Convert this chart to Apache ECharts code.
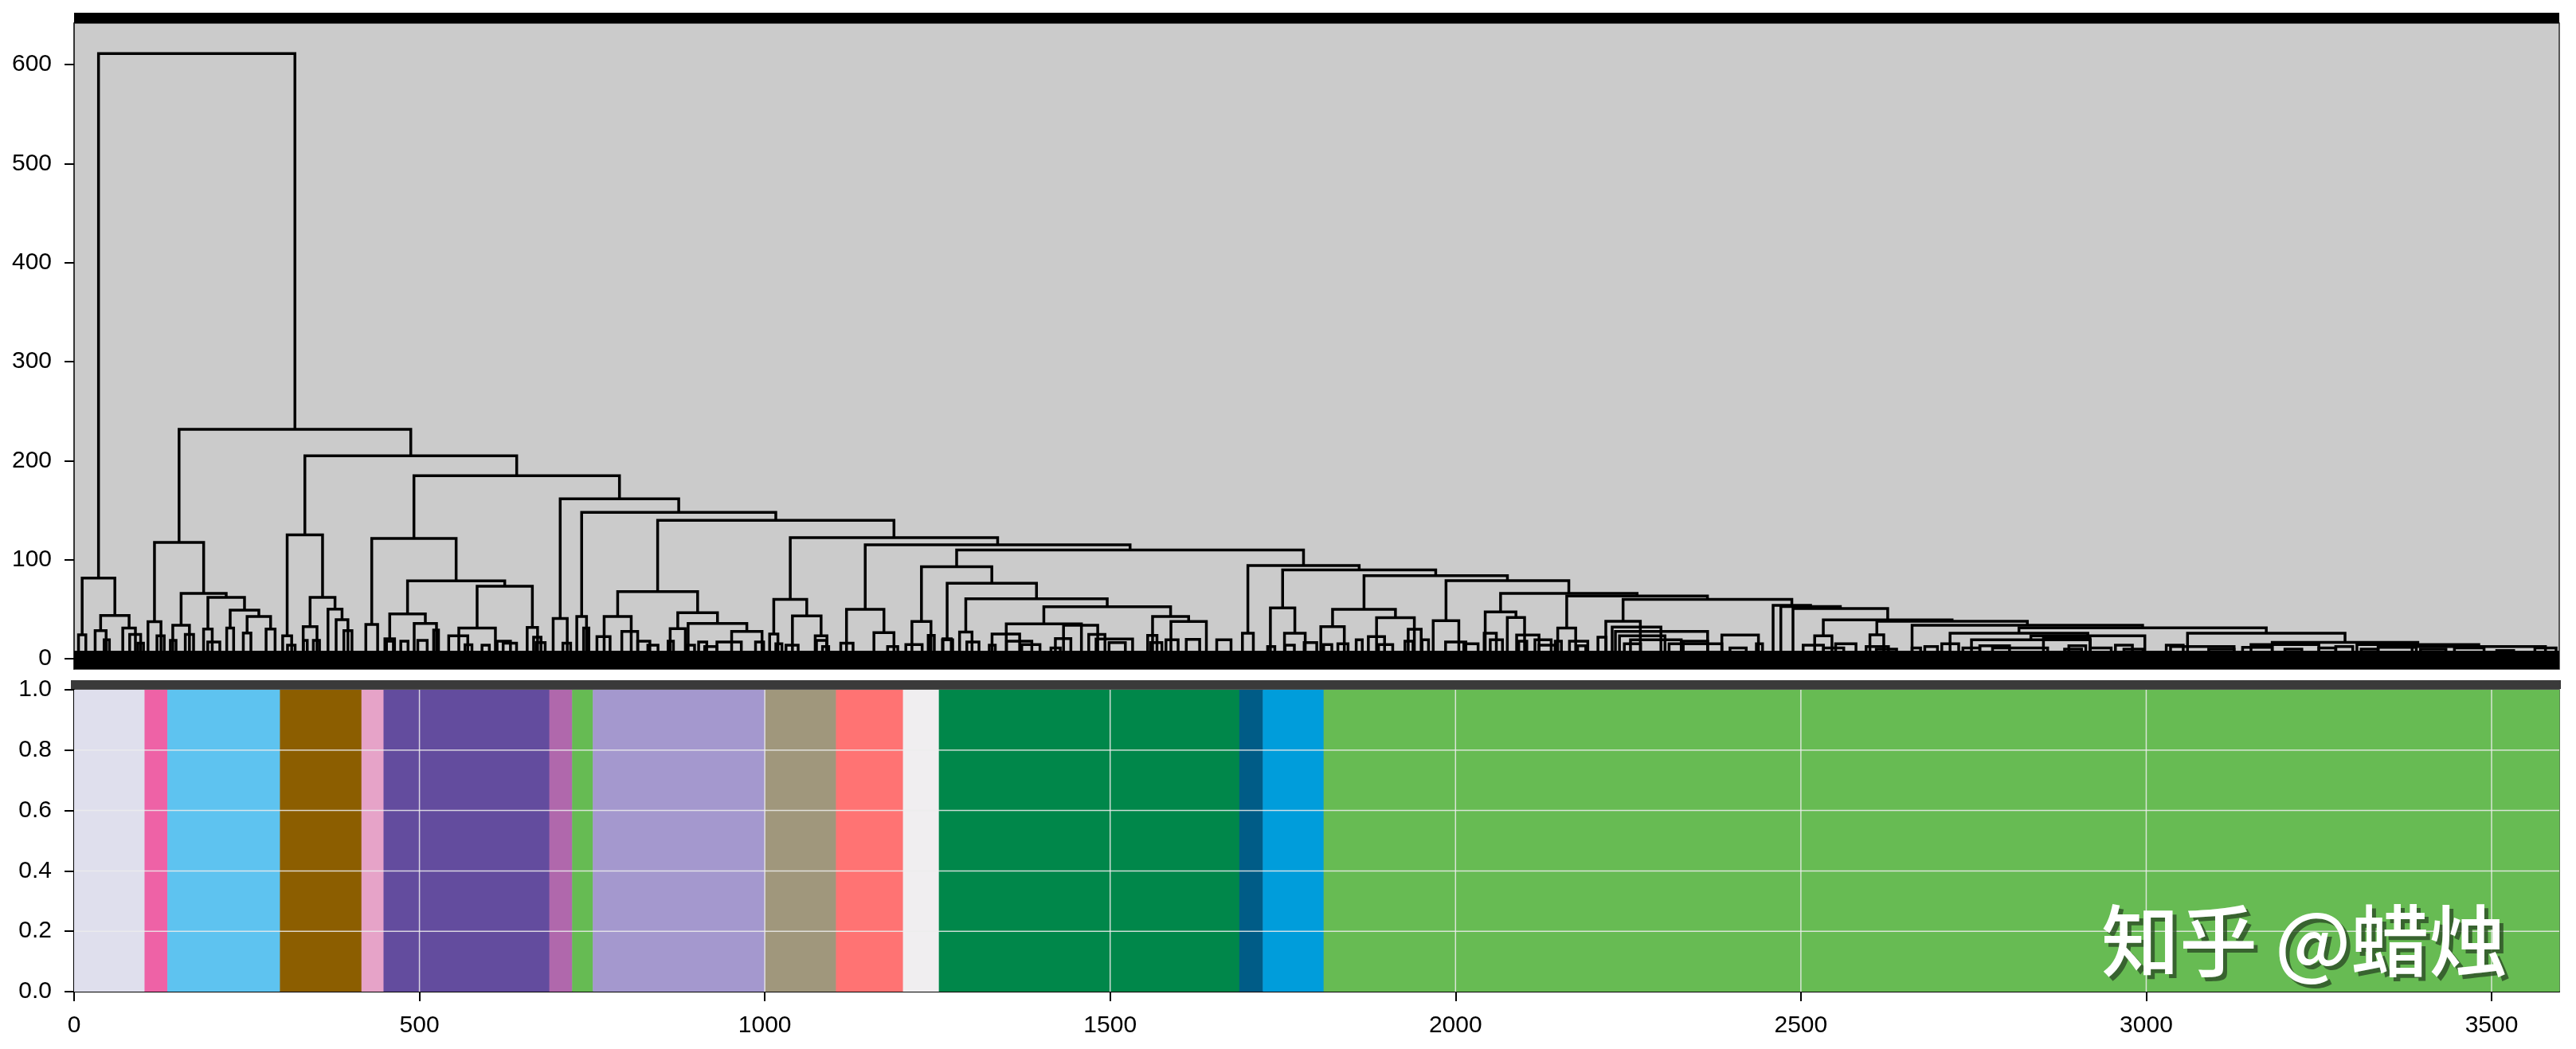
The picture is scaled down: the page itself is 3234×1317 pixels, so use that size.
<!DOCTYPE html>
<html><head><meta charset="utf-8">
<script src="https://cdn.jsdelivr.net/npm/echarts@6/dist/echarts.min.js"></script>
<style>html,body{margin:0;padding:0;background:#fff}#c{width:3234px;height:1317px}</style>
</head><body><div id="c"></div>
<script>
// ---------- data ----------
const leafCount = 3598;
const heightTicks = [0, 100, 200, 300, 400, 500, 600];
const indexTicks = [0, 500, 1000, 1500, 2000, 2500, 3000, 3500];
const fractionTicks = [0, 0.2, 0.4, 0.6, 0.8, 1.0];

// cluster colour bands (leaf index boundaries) of the lower panel
const bandEdges = [0, 102, 135, 298, 416, 448, 688, 721, 751, 1000, 1103, 1200, 1252, 1687, 1721, 1809, 3598];
const bandColors = ['#DFDFED', '#EE62A6', '#5EC3F0', '#8C5E00', '#E6A3C8', '#634C9E', '#B068AC', '#66BB53',
  '#A498CE', '#A0977C', '#FF7373', '#F0EEF0', '#00874A', '#005C87', '#009DDB', '#67BB53'];

// dendrogram merges: [height, left, right]; a bare number is a leaf group position
const clusterA = [81.5, [24, 6.4, 17], [43.7, [28.4, 30.5, 46.4], [31, 70.5, 88.8]]];
const clusterBL = [117.5, [37.3, 107, 125.8], [66, [33.8, 142.9, 167], [62, [30, 187.5, 200], [49, [31, 221, 231], [42.6, [26, 245, 256], [30, 278, 291]]]]]];
const clusterBRL = [125, [23, 302, 315], [62, [32.4, 331.7, 351.7], [50, 367.6, [39.4, 379.4, 396.5]]]];
const clusterBRRL = [121.5, [34.6, 422.4, 439.5], [78.6, [45.3, [20, 450, 464], [35.6, 492.4, 524.7]], [73.2, [31, 557, 610], [31.6, 656, 671]]]];
const clusterN67 = [67.8, [42.6, 767.4, 806.6], [46.4, [30.3, 863, 885], [35.6, 889, [27.6, 952, 996]]]];
const clusterN59 = [59.8, [25, 1007, 1019], [43.2, 1040, [23, 1073, 1090]]];
const clusterN49 = [49.9, 1118.3, [26.3, 1158, 1187]];
const clusterN92 = [92.8, [37.5, 1213, 1240.6], [76.2, [20, 1258, 1270], [60.6, [27, 1282, 1300], [52.5, [35.1, 1349.6, 1458.4], [42.6, 1561.4, [37.5, 1588, 1639.3]]]]]];
const stairTail = [25.7, 3059.8, [16.4, 3182.4, [14.2, 3305, [12.3, 3385, 3578]]]];
const stairMid = [31.1, [25.7, 2716, [23, [19, 2747, 2919], 2998]], stairTail];
const stairTop = [37.8, [24, 2600, 2620], [33.8, 2661, stairMid]];
const clusterStair = [53.9, 2459.8, [52.6, 2471, [50.7, 2488.6, [39.2, [23, 2520, 2545], stairTop]]]];
const clusterN84 = [83.9, [49.9, [32.4, 1805, 1839], [41.3, 1885.7, 1940.4]], [78.8, [38.3, 1967.7, 2004.8], [66, [47.2, 2043, [41.6, 2075, 2100]], [63.3, [31, 2148, 2174], [59.8, [37.8, 2217.6, 2267.6], clusterStair]]]]];
const clusterN94 = [94.1, [25.7, 1691.5, 1707.3], [89.6, [51.2, 1732, [25.7, 1752.4, 1782.4]], clusterN84]];
const chainC = [109.7, clusterN92, clusterN94];
const chainB = [139.7, clusterN67, [122.3, clusterN59, [115, clusterN49, chainC]]];
const clusterBRRR = [161.5, [40.5, 693.6, 714], [147.8, [42.6, 727.8, 741.9], chainB]];
const rootTree = [611.3, clusterA, [231.7, clusterBL, [204.9, clusterBRL, [184.8, clusterBRRL, clusterBRRR]]]];

// low-level merges near the leaves: [leftIndex, rightIndex, height]
const forestWest = [[43.5, 51.1, 19], [80.5, 96.4, 24.4], [92.3, 100.5, 15.7], [120, 130.5, 23], [139.4, 147.6, 18.5],
  [161, 173, 24.4], [193.5, 211, 16.8], [309, 320, 13.6], [332, 337.6, 18.5], [346.4, 355.3, 18.5], [390.6, 402.3, 28.4],
  [452.3, 462.3, 17.6], [473, 483.5, 17.6], [497.6, 511.2, 18.5], [520.6, 527.6, 29], [542.4, 570, 23], [566, 576, 14],
  [590.6, 601.2, 13.6], [612.4, 631.8, 17.6], [621.2, 640.6, 15.7], [665.3, 676, 21.7], [669, 682, 16.3],
  [707.7, 718.9, 15.7], [737.7, 745.3, 31], [757, 776, 22.2], [793, 816, 27.5]];
const forestMid = [[816, 833.6, 17.6], [830.7, 845.4, 13.6], [860, 867.7, 17.6], [886.6, 898.3, 13.6], [904.2, 916, 16.8],
  [913, 930.7, 12.3], [930.7, 966, 16.8], [986.6, 998.3, 16.8], [1016, 1024.8, 15], [1030.7, 1048.3, 13.6],
  [1074.8, 1089.5, 18.5], [1083.6, 1092.5, 12.3], [1110, 1127.8, 15.7], [1177.8, 1192.5, 12.3], [1204.2, 1227.8, 14.2],
  [1236.6, 1245.4, 23.5], [1257.2, 1272, 19], [1292.5, 1310.1, 16.8], [1329, 1369, 24.9], [1325, 1333.7, 13.6],
  [1350, 1386.6, 17.6], [1372, 1398.4, 14.2], [1420.7, 1443.1, 20.3], [1414.3, 1427.8, 10.9], [1432.5, 1482, 33.7],
  [1469, 1492.5, 24.4], [1479.6, 1532.5, 19.8], [1498.4, 1522, 16.3], [1554.3, 1567.8, 23.5], [1558.4, 1574.9, 16.3],
  [1580.8, 1598.4, 19], [1610.2, 1629.6, 19.5], [1654.3, 1675, 19], [1728, 1738.4, 12.3]];
const forestEast = [[1753.2, 1766.7, 13.6], [1780.9, 1799.1, 16.3], [1809.1, 1820.9, 14.2], [1829.7, 1844.4, 15],
  [1856.2, 1865, 19], [1873.8, 1897.3, 22.2], [1888.5, 1909.1, 14.2], [1926.8, 1938.5, 17.6], [1931.5, 1950.3, 29.7],
  [1951.5, 1960.9, 19], [1985.6, 2015, 16.8], [2012, 2032.7, 15], [2041.5, 2059.1, 25.7], [2050.3, 2068, 19],
  [2088.5, 2120.9, 23.8], [2091.5, 2103.2, 17.6], [2115, 2138.5, 19], [2120.9, 2144.4, 13.6], [2144.4, 2153.3, 17.6],
  [2165, 2191.5, 17.6], [2176.8, 2188.6, 13.1], [2206.2, 2218, 21.7], [2226.8, 2297.4, 31.9], [2231.5, 2365, 27.6],
  [2237.4, 2303.3, 23], [2253.3, 2326.8, 19], [2244.4, 2268, 15], [2309.2, 2385.6, 15], [2329.7, 2365, 17.6],
  [2385.6, 2438.6, 23.8], [2397.4, 2420.9, 10.9], [2435.6, 2444.5, 15], [2503.3, 2532.7, 13.6], [2532.7, 2562.1, 10.9],
  [2550.3, 2579.8, 15], [2594.5, 2626.8, 12.3], [2609.2, 2638.6, 9.6]];
const forestFar = [[2661, 2673.3, 10.9], [2679.4, 2697.8, 12.3], [2704, 2728.5, 15], [2734.6, 2759.1, 10.9],
  [2759.1, 2802.1, 13.1], [2777.5, 2857.3, 10.9], [2851.2, 2918.6, 20.3], [2881.8, 2906.4, 9.6], [2888, 2912.5, 13.1],
  [2918.6, 2949.3, 10.9], [2955.4, 2980, 13.6], [2967.7, 2995.3, 9.6], [3029, 3053.6, 13.6], [3035.2, 3127.2, 12.3],
  [3090.4, 3127.2, 9.6], [3139.5, 3182.4, 11.5], [3151.7, 3249.9, 14.2], [3200.8, 3225.3, 9.6], [3249.9, 3274.4, 10.9],
  [3274.4, 3299, 12.3], [3311.2, 3335.7, 9.6], [3335.7, 3391, 11.5], [3397, 3433.9, 9.6], [3446.2, 3489.1, 10.9],
  [3507.5, 3532, 8.2], [3562.7, 3593.4, 10.9]];

// dense leaf layer at the foot of the dendrogram: [fromIndex, toIndex, lowHeight, highHeight]
const leafLayer = [[0, 3598, -10.5, 8]];

// ---------- build link table ----------
const links = [];
function walk(node) {
  if (typeof node === 'number') return { x: node, h: 0 };
  const a = walk(node[1]), b = walk(node[2]);
  links.push([a.x, b.x, node[0], a.h, b.h]);
  return { x: (a.x + b.x) / 2, h: node[0] };
}
walk(rootTree);
[forestWest, forestMid, forestEast, forestFar].forEach(arr => arr.forEach(m => links.push([m[0], m[1], m[2], 0, 0])));

const bands = [];
for (let i = 0; i < bandColors.length; i++) bands.push([bandEdges[i], bandEdges[i + 1], i]);

const FONT = '"Liberation Sans", Arial, sans-serif';
const chart = echarts.init(document.getElementById('c'), null, { renderer: 'canvas' });
chart.setOption({
  animation: false,
  backgroundColor: '#ffffff',
  grid: [
    { left: 93, right: 21, top: 29, bottom: 477, show: true, backgroundColor: '#CBCBCB', borderColor: '#2a2a2a', borderWidth: 1.5 },
    { left: 93, right: 21, top: 866, bottom: 72, show: true, backgroundColor: 'transparent', borderColor: '#1a1a1a', borderWidth: 1.5 }
  ],
  xAxis: [
    { gridIndex: 0, type: 'value', min: 0, max: leafCount, show: false },
    { gridIndex: 1, type: 'value', min: 0, max: leafCount,
      axisLine: { show: true, lineStyle: { color: '#000', width: 2 } },
      axisTick: { show: true, length: 12, customValues: indexTicks, lineStyle: { color: '#000', width: 2 } },
      axisLabel: { customValues: indexTicks, fontSize: 30, margin: 28, color: '#000', fontFamily: FONT, formatter: v => String(v) },
      splitLine: { show: false } }
  ],
  yAxis: [
    { gridIndex: 0, type: 'value', min: -10.5, max: 642,
      axisLine: { show: true, lineStyle: { color: '#2a2a2a', width: 1.5 } },
      axisTick: { show: true, length: 12, customValues: heightTicks, lineStyle: { color: '#000', width: 2 } },
      axisLabel: { customValues: heightTicks, fontSize: 30, margin: 28, color: '#000', fontFamily: FONT, formatter: v => String(v) },
      splitLine: { show: false } },
    { gridIndex: 1, type: 'value', min: 0, max: 1, interval: 0.2,
      axisLine: { show: true, lineStyle: { color: '#000', width: 2 } },
      axisTick: { show: true, length: 12, lineStyle: { color: '#000', width: 2 } },
      axisLabel: { fontSize: 30, margin: 28, color: '#000', fontFamily: FONT, formatter: v => v.toFixed(1) },
      splitLine: { show: false } }
  ],
  series: [
    { type: 'custom', name: 'leafLayer', xAxisIndex: 0, yAxisIndex: 0, data: leafLayer, z: 2,
      renderItem: (p, api) => {
        const a = api.coord([api.value(0), api.value(3)]), b = api.coord([api.value(1), api.value(2)]);
        return { type: 'rect', shape: { x: a[0], y: a[1], width: b[0] - a[0], height: b[1] - a[1] }, style: { fill: '#000' } };
      } },
    { type: 'custom', name: 'dendrogram', xAxisIndex: 0, yAxisIndex: 0, data: links, z: 3,
      renderItem: (p, api) => {
        const x1 = api.value(0), x2 = api.value(1), h = api.value(2), h1 = api.value(3), h2 = api.value(4);
        return { type: 'polyline', shape: { points: [api.coord([x1, h1]), api.coord([x1, h]), api.coord([x2, h]), api.coord([x2, h2])] },
          style: { stroke: '#000', lineWidth: 3.5, fill: null, lineJoin: 'miter' } };
      } },
    { type: 'custom', name: 'bands', xAxisIndex: 1, yAxisIndex: 1, data: bands, z: 2,
      renderItem: (p, api) => {
        const a = api.coord([api.value(0), 1]), b = api.coord([api.value(1), 0]);
        return { type: 'rect', shape: { x: a[0], y: a[1], width: b[0] - a[0] + 0.5, height: b[1] - a[1] }, style: { fill: bandColors[api.value(2)] } };
      } },
    { type: 'custom', name: 'vgrid', xAxisIndex: 1, yAxisIndex: 1, data: indexTicks.slice(1).map(v => [v]), z: 4,
      renderItem: (p, api) => {
        const a = api.coord([api.value(0), 1]), b = api.coord([api.value(0), 0]);
        return { type: 'line', shape: { x1: a[0], y1: a[1], x2: b[0], y2: b[1] }, style: { stroke: 'rgba(236,236,236,0.85)', lineWidth: 1.5 } };
      } },
    { type: 'custom', name: 'hgrid', xAxisIndex: 1, yAxisIndex: 1, data: fractionTicks.slice(1, 5).map(v => [0, v]), z: 4,
      renderItem: (p, api) => {
        const a = api.coord([0, api.value(1)]), b = api.coord([leafCount, api.value(1)]);
        return { type: 'line', shape: { x1: a[0], y1: a[1], x2: b[0], y2: b[1] }, style: { stroke: 'rgba(236,236,236,0.85)', lineWidth: 1.5 } };
      } }
  ],
  graphic: [
    { type: 'rect', left: 93, top: 16, shape: { width: 3120, height: 13 }, style: { fill: '#000' }, z: 10 },
    { type: 'rect', left: 89, top: 854, shape: { width: 3126, height: 11 }, style: { fill: '#3a3a3a' }, z: 10 },
    { type: 'text', left: 2643, top: 1137, style: { text: '知乎 @蜡烛', font: '500 98px "Noto Sans CJK SC"', fill: 'rgba(40,70,35,0.75)' }, z: 20 },
    { type: 'text', left: 2638, top: 1132, style: { text: '知乎 @蜡烛', font: '500 98px "Noto Sans CJK SC"', fill: '#ffffff' }, z: 21 }
  ]
});
</script></body></html>
